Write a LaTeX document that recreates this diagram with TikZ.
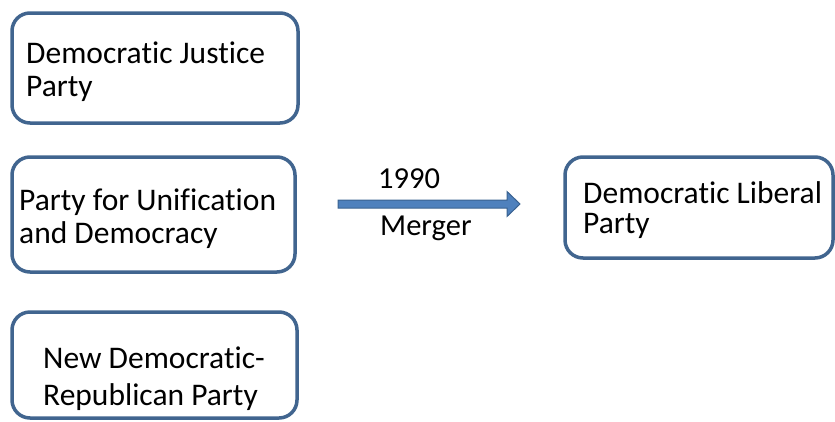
\documentclass[tikz,border=0pt]{standalone}
\usepackage{fontspec}
\setmainfont[Ligatures={NoCommon}]{Carlito}
\usetikzlibrary{arrows.meta,calc}
\definecolor{boxline}{HTML}{41658F}
\definecolor{arrowfill}{HTML}{4F81BD}
\definecolor{arrowline}{HTML}{3A6290}
\tikzset{
  party/.style={draw=boxline, line width=3.5pt, rounded corners=18pt, fill=white, inner sep=0pt},
  lbl/.style={anchor=west, inner sep=0pt, align=left, font=\fontsize{31.5}{33}\selectfont},
  arrlbl/.style={anchor=base west, inner sep=0pt, font=\fontsize{30.5}{33}\selectfont},
}
\begin{document}
\begin{tikzpicture}[x=1pt,y=-1pt]
\useasboundingbox (0,0) rectangle (835,421);
% boxes
\node[party, minimum width=286pt, minimum height=110pt] (djp) at (155,68) {};
\node[party, minimum width=283pt, minimum height=115pt] (pud) at (153.5,214.5) {};
\node[party, minimum width=285pt, minimum height=106pt] (ndrp) at (154.5,365) {};
\node[party, minimum width=268pt, minimum height=101pt] (dlp) at (699,207.5) {};
% texts
\node[lbl] (t1) at (26,73) {\strut Democratic Justice\\\strut Party};
\node[lbl] (t2) at (19,220) {\strut Party for Unification\\\strut and Democracy};
\node[lbl, font=\fontsize{31.5}{37}\selectfont] (t3) at (43,380) {\strut New Democratic-\\\strut Republican Party};
\node[lbl, font=\fontsize{31.5}{30}\selectfont] (t4) at (583,212) {\strut Democratic Liberal\\\strut Party};
% arrow
\coordinate (a0) at (338,204);
\coordinate (a1) at (520,204);
\fill[arrowfill, draw=arrowline, line width=1pt]
  ($(a0)+(0,-4)$) -- ($(a1)+(-13,-4)$) -- ($(a1)+(-13,-12.5)$) -- (a1)
  -- ($(a1)+(-13,12.5)$) -- ($(a1)+(-13,4)$) -- ($(a0)+(0,4)$) -- cycle;
\node[arrlbl] (y1990) at (378,188) {1990};
\node[arrlbl] (merger) at (380,235) {Merger};
\end{tikzpicture}
\end{document}
